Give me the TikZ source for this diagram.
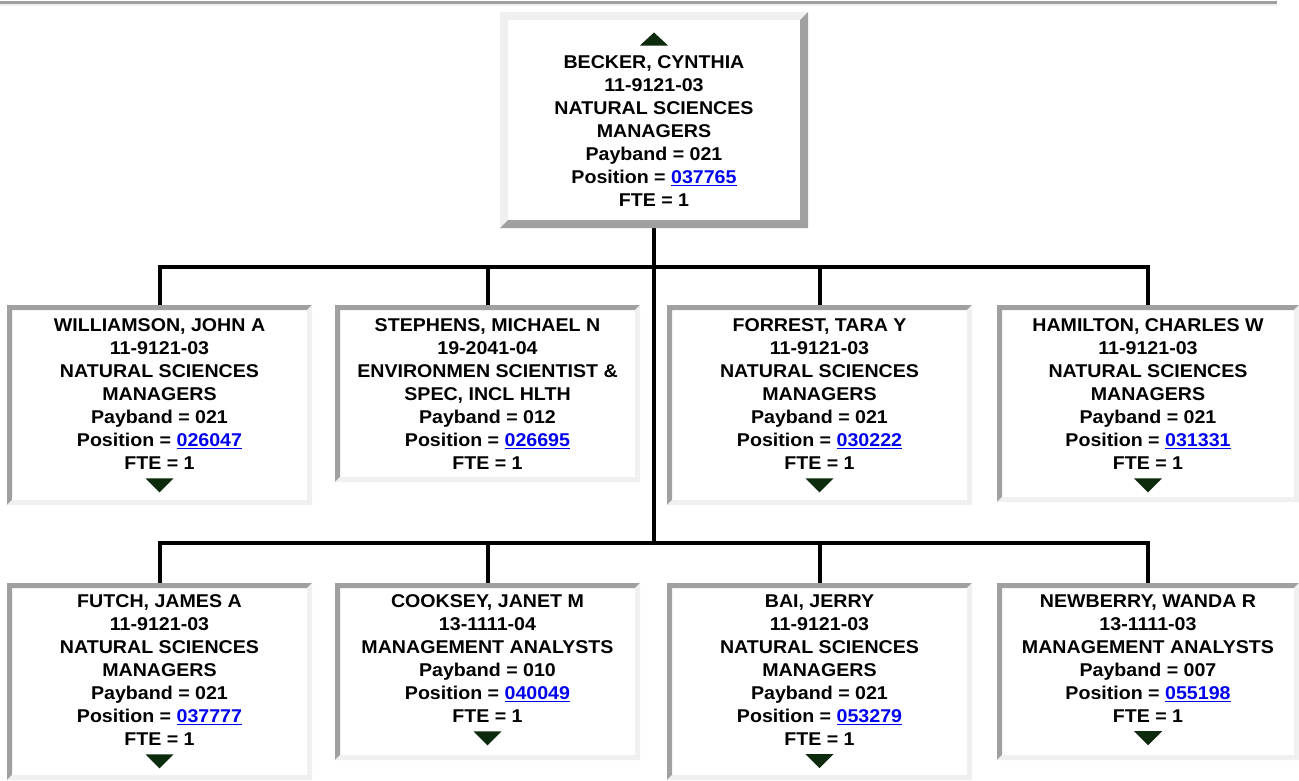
\documentclass[tikz,border=0pt]{standalone}
\usepackage{fontspec}
\setmainfont{Liberation Sans}[FakeStretch=1.06]
\usetikzlibrary{positioning}

\definecolor{framedark}{HTML}{A0A0A0}
\definecolor{framelight}{HTML}{F0F0F0}
\definecolor{arrowgreen}{HTML}{0C2A0C}
\definecolor{linkblue}{HTML}{0000EE}

\newcommand{\poslink}[1]{\textcolor{linkblue}{\underline{#1}}}
% #1 node, #2 top/left colour, #3 bottom/right colour, #4 width
\newcommand{\bevel}[4]{%
  \fill[#2] (#1.south west) -- (#1.north west) -- (#1.north east)
    -- ([shift={(-#4,#4)}]#1.north east) -- ([shift={(#4,#4)}]#1.north west)
    -- ([shift={(#4,-#4)}]#1.south west) -- cycle;
  \fill[#3] (#1.north east) -- (#1.south east) -- (#1.south west)
    -- ([shift={(#4,-#4)}]#1.south west) -- ([shift={(-#4,-#4)}]#1.south east)
    -- ([shift={(-#4,#4)}]#1.north east) -- cycle;}

\begin{document}
\begin{tikzpicture}[
      x=1pt, y=-1pt,
      font=\fontsize{18.5}{23}\selectfont\bfseries,
      box/.style={rectangle, draw=none, fill=white, inner sep=0pt, outer sep=0pt,
                  minimum width=305pt},
      card/.style={inner sep=0pt, outer sep=0pt, align=center},
      wire/.style={line width=4pt, draw=black},
      tri/.style={fill=arrowgreen}]
    \useasboundingbox (0,0) rectangle (1299,780);
    % rule at the top
    \fill[framedark] (0,0.5) rectangle (1277,4);
    \fill[framelight] (0,4) rectangle (1277,5.5);

    % boxes
    \node[box, minimum width=308pt, minimum height=216pt] (becker) at (654,120) {};
    \node[box, minimum height=200pt] (williamson) at (159.5,405) {};
    \node[box, minimum height=177pt] (stephens) at (487.5,393.5) {};
    \node[box, minimum height=200pt] (forrest) at (819.5,405) {};
    \node[box, minimum width=302pt, minimum height=197pt] (hamilton) at (1148,403.5) {};
    \node[box, minimum height=197pt] (futch) at (159.5,681.5) {};
    \node[box, minimum height=177pt] (cooksey) at (487.5,671.5) {};
    \node[box, minimum height=197pt] (bai) at (819.5,681.5) {};
    \node[box, minimum width=302pt, minimum height=177pt] (newberry) at (1148,671.5) {};

    \coordinate (bus1) at (654,267);
    \coordinate (bus2) at (654,543);

    % connectors
    \draw[wire] (becker.south) -- (bus2);
    \draw[wire] (williamson.north) |- (bus1) -| (hamilton.north);
    \draw[wire] (stephens.north) -- (stephens.north |- bus1);
    \draw[wire] (forrest.north) -- (forrest.north |- bus1);
    \draw[wire] (futch.north) |- (bus2) -| (newberry.north);
    \draw[wire] (cooksey.north) -- (cooksey.north |- bus2);
    \draw[wire] (bai.north) -- (bai.north |- bus2);

    \bevel{becker}{framelight}{framedark}{8}
    \foreach \n in {williamson,stephens,forrest,hamilton,futch,cooksey,bai,newberry}
      {\bevel{\n}{framedark}{framelight}{5}}

    % texts
    \node[card, below=43.5pt of becker.north] (becker-txt)
      {BECKER, CYNTHIA\\11-9121-03\\NATURAL SCIENCES\\MANAGERS\\Payband = 021\\Position = \poslink{037765}\\FTE = 1};
    \node[card, below=13.5pt of williamson.north] (williamson-txt)
      {WILLIAMSON, JOHN A\\11-9121-03\\NATURAL SCIENCES\\MANAGERS\\Payband = 021\\Position = \poslink{026047}\\FTE = 1};
    \node[card, below=13.5pt of stephens.north] (stephens-txt)
      {STEPHENS, MICHAEL N\\19-2041-04\\ENVIRONMEN SCIENTIST \&\\SPEC, INCL HLTH\\Payband = 012\\Position = \poslink{026695}\\FTE = 1};
    \node[card, below=13.5pt of forrest.north] (forrest-txt)
      {FORREST, TARA Y\\11-9121-03\\NATURAL SCIENCES\\MANAGERS\\Payband = 021\\Position = \poslink{030222}\\FTE = 1};
    \node[card, below=13.5pt of hamilton.north] (hamilton-txt)
      {HAMILTON, CHARLES W\\11-9121-03\\NATURAL SCIENCES\\MANAGERS\\Payband = 021\\Position = \poslink{031331}\\FTE = 1};
    \node[card, below=11.5pt of futch.north] (futch-txt)
      {FUTCH, JAMES A\\11-9121-03\\NATURAL SCIENCES\\MANAGERS\\Payband = 021\\Position = \poslink{037777}\\FTE = 1};
    \node[card, below=11.5pt of cooksey.north] (cooksey-txt)
      {COOKSEY, JANET M\\13-1111-04\\MANAGEMENT ANALYSTS\\Payband = 010\\Position = \poslink{040049}\\FTE = 1};
    \node[card, below=11.5pt of bai.north] (bai-txt)
      {BAI, JERRY\\11-9121-03\\NATURAL SCIENCES\\MANAGERS\\Payband = 021\\Position = \poslink{053279}\\FTE = 1};
    \node[card, below=11.5pt of newberry.north] (newberry-txt)
      {NEWBERRY, WANDA R\\13-1111-03\\MANAGEMENT ANALYSTS\\Payband = 007\\Position = \poslink{055198}\\FTE = 1};

    % expand arrows
    \fill[tri] ([shift={(-14,-10)}]becker-txt.north) -- ++(28,0) -- ++(-14,-13) -- cycle;
    \foreach \n in {williamson,forrest,hamilton,futch,cooksey,bai,newberry}
      {\fill[tri] ([shift={(-14,9)}]\n-txt.south) -- ++(28,0) -- ++(-14,14) -- cycle;}
  \end{tikzpicture}
\end{document}
